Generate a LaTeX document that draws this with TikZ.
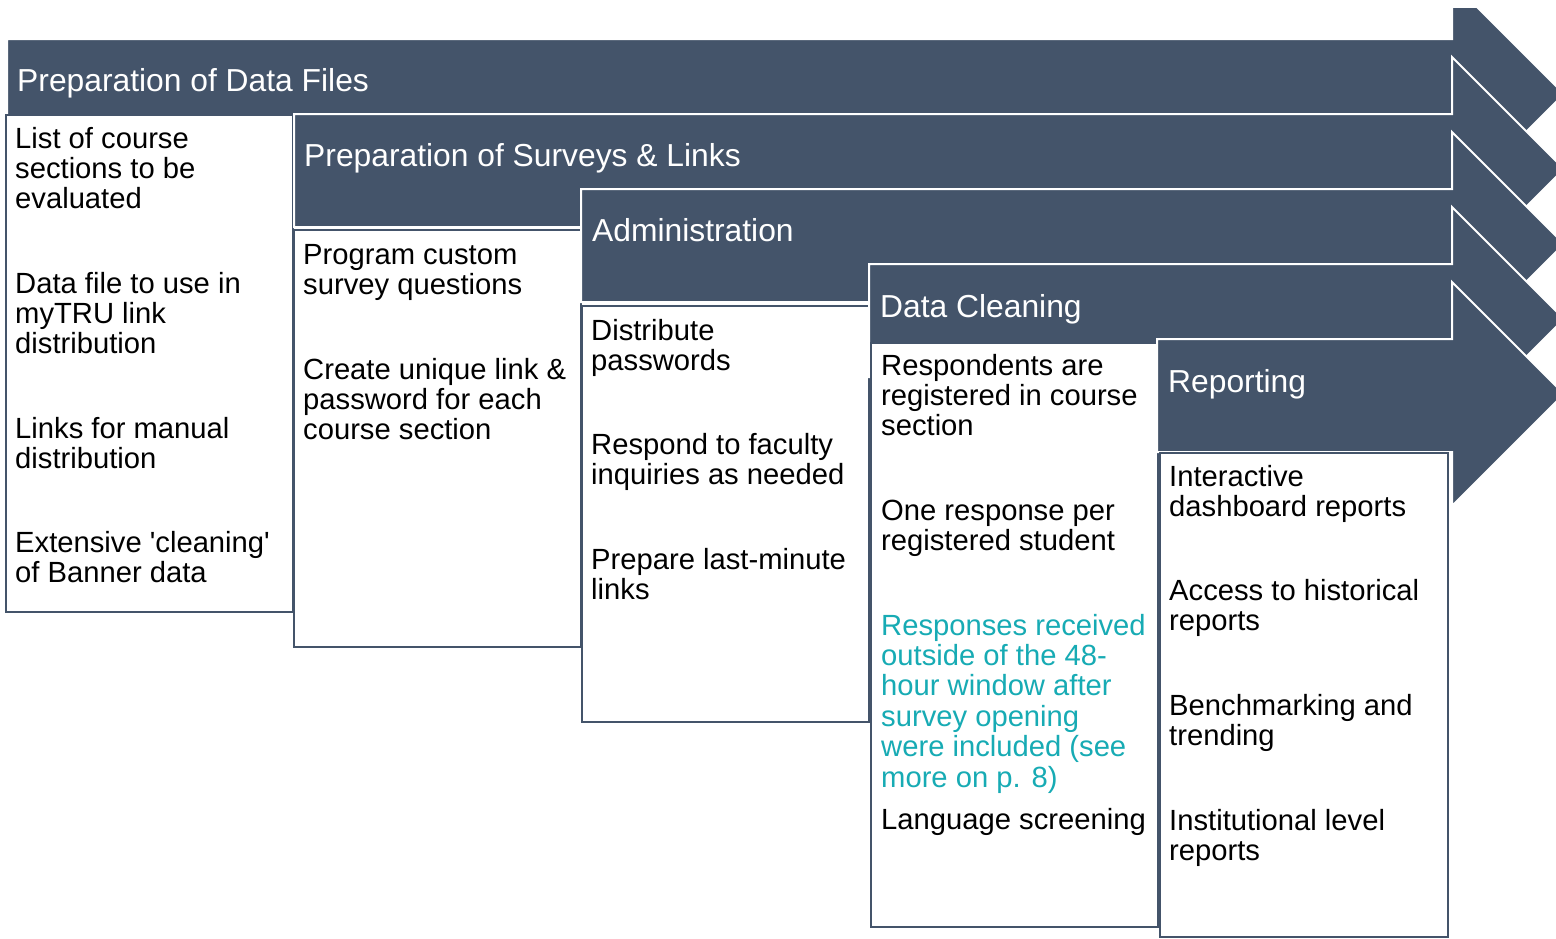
\documentclass[tikz,border=0pt]{standalone}
\usepackage{fontspec}
\setmainfont{Liberation Sans}[Ligatures=TeXOff]
\definecolor{slate}{HTML}{44546A}
\definecolor{tealtxt}{HTML}{17ABB4}
\begin{document}
\begin{tikzpicture}[x=1pt,y=-1pt,
  arrowshape/.style={fill=slate,draw=white,line width=2pt,line join=miter},
  stepbox/.style={fill=white,draw=slate,line width=2pt},
  steptitle/.style={anchor=base west,inner sep=0pt,text=white,font=\fontsize{31.8}{34}\selectfont},
  item/.style={anchor=base west,inner sep=0pt,align=left,font=\fontsize{29.2}{30.4}\selectfont}]
\useasboundingbox[fill=white] (0,0) rectangle (1556,938);
\begin{scope}
\clip (0,8) rectangle (1556,938);
\foreach \lx/\t/\bxa/\bya/\bxb/\byb in {7/39/6/115/293/612, 294/114/294/230/581/647, 581/189/582/306/869/722, 869/264/871/343/1158/927, 1157/339/1160/453/1448/937}{
  \draw[arrowshape] (\lx,\t) -- (1452,\t) -- (1452,\t-57) -- (1564,\t+55) -- (1452,\t+167) -- (1452,\t+113) -- (\lx,\t+113) -- cycle;
  \draw[stepbox] (\bxa,\bya) rectangle (\bxb,\byb);
}
\end{scope}
% titles
\node[steptitle] (t1) at (17,91) {Preparation of Data Files};
\node[steptitle] (t2) at (304,166) {Preparation of Surveys \& Links};
\node[steptitle] (t3) at (592,241) {Administration};
\node[steptitle] (t4) at (880,317) {Data Cleaning};
\node[steptitle] (t5) at (1168,392) {Reporting};
% box 1 (anchors at baseline of last line)
\node[item] (a1) at (15,208.8) {List of course\\sections to be\\evaluated};
\node[item] (a2) at (15,353.8) {Data file to use in\\myTRU link\\distribution};
\node[item] (a3) at (15,468.4) {Links for manual\\distribution};
\node[item] (a4) at (15,582.4) {Extensive 'cleaning'\\of Banner data};
% box 2
\node[item] (b1) at (303,294.4) {Program custom\\survey questions};
\node[item] (b2) at (303,439.8) {Create unique link \&\\password for each\\course section};
% box 3
\node[item] (c1) at (591,370.4) {Distribute\\passwords};
\node[item] (c2) at (591,484.4) {Respond to faculty\\inquiries as needed};
\node[item] (c3) at (591,599.4) {Prepare last-minute\\links};
% box 4
\node[item] (d1) at (881,435.8) {Respondents are\\registered in course\\section};
\node[item] (d2) at (881,550.4) {One response per\\registered student};
\node[item,text=tealtxt] (d3) at (881,787) {Responses received\\outside of the 48-\\hour window after\\survey opening\\were included (see\\more on p. 8)};
\node[item] (d4) at (881,829) {Language screening};
% box 5
\node[item] (e1) at (1169,516.4) {Interactive\\dashboard reports};
\node[item] (e2) at (1169,630.4) {Access to historical\\reports};
\node[item] (e3) at (1169,745.4) {Benchmarking and\\trending};
\node[item] (e4) at (1169,860.4) {Institutional level\\reports};
\end{tikzpicture}
\end{document}
